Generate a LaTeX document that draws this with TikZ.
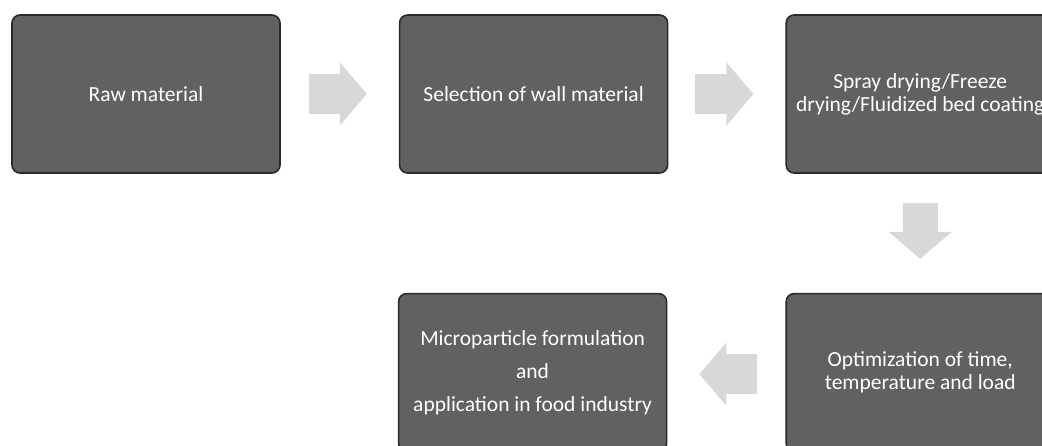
\documentclass[tikz,border=0pt]{standalone}
\usepackage{fontspec}
\setmainfont{Carlito}
\usepackage{xcolor}
\usepackage{tikz}
\usetikzlibrary{
  arrows.meta,
  positioning
}
\definecolor{StepFill}{HTML}{616161}
\definecolor{StepEdge}{HTML}{2A2A2A}
\definecolor{FlowGray}{HTML}{D8D8D8}

\tikzset{
  stepbox/.style={rectangle,rounded corners=8pt,fill=StepFill,draw=StepEdge,
    line width=1.6pt,minimum width=268pt,minimum height=158pt,inner sep=4pt,
    text=white,align=center,font=\fontsize{21.5}{23}\selectfont},
  flowarrow/.style={draw=FlowGray,line width=40pt,
    -{Triangle[length=27pt 0 0,width=63pt 0 0,line width=2pt 0 0,fill=FlowGray]}}
}

\begin{document}
\begin{tikzpicture}
  \clip (0,0) rectangle (1042pt,-445pt);
  \fill[white] (0,0) rectangle (1042pt,-445pt);

  % top row
  \node[stepbox] (raw) at (146pt,-94pt) {Raw material};
  \node[stepbox,right=118pt of raw] (wall) {Selection of wall material};
  \node[stepbox,right=117pt of wall] (drying) {Spray drying/Freeze\\drying/Fluidized bed coating};

  % bottom row
  \node[stepbox,below=119pt of drying] (optim) {Optimization of time,\\temperature and load};
  \node[stepbox,left=118pt of optim] (micro) {Microparticle formulation\\[10pt]and\\[10pt]application in food industry};

  % block arrows
  \draw[flowarrow] ([xshift=28pt]raw.east) -- ([xshift=-32pt]wall.west);
  \draw[flowarrow] ([xshift=27pt]wall.east) -- ([xshift=-32pt]drying.west);
  \draw[flowarrow,line width=35pt] ([yshift=-29pt]drying.south) -- ([yshift=34pt]optim.north);
  \draw[flowarrow] ([xshift=-28pt,yshift=-1.5pt]optim.west) -- ([xshift=32pt,yshift=-1.5pt]micro.east);
\end{tikzpicture}
\end{document}
